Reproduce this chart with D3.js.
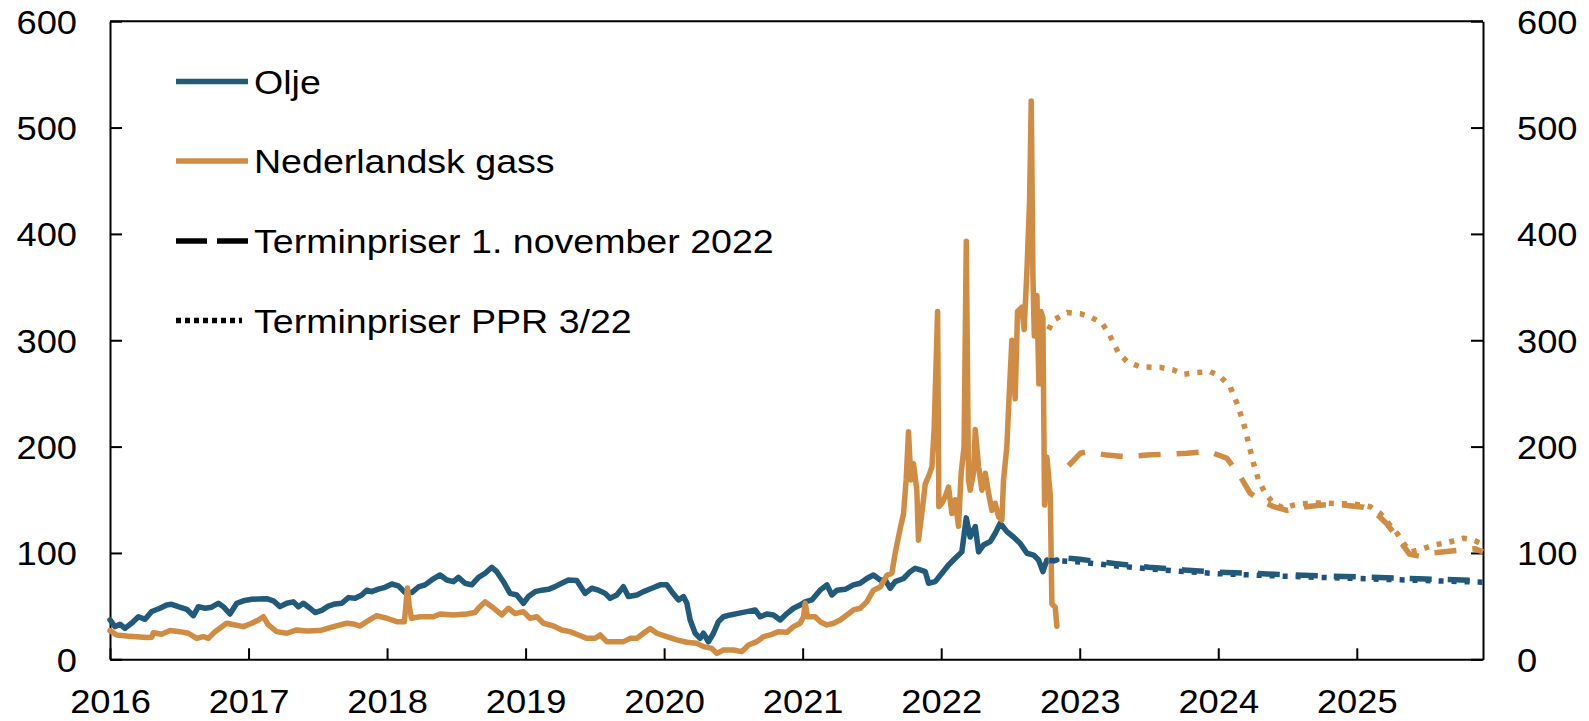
<!DOCTYPE html>
<html><head><meta charset="utf-8">
<script src="https://cdn.jsdelivr.net/npm/d3@7/dist/d3.min.js"></script>
<style>
body{margin:0;background:#fff}
text{font-family:"Liberation Sans",Arial,sans-serif;font-size:33px;fill:#000}
text.legend{font-size:34px}
</style>
</head><body>
<svg id="chart" width="1589" height="721"></svg>
<script>
// ---------- data (x = decimal year, y = value) ----------
const yearTicks = [2016,2017,2018,2019,2020,2021,2022,2023,2024,2025];
const valueTicks = [0,100,200,300,400,500,600];
const legendLabels = ["Olje","Nederlandsk gass","Terminpriser 1. november 2022","Terminpriser PPR 3/22"];

const oilHistory = [
[2016.000,37],[2016.036,30.7],[2016.072,33],[2016.108,29],[2016.156,34],[2016.205,40],[2016.253,37.6],[2016.301,45],[2016.361,48],[2016.409,51],[2016.445,51.7],[2016.493,49.5],[2016.554,47],[2016.602,41],[2016.638,49.5],[2016.686,48],[2016.734,49],[2016.782,52.7],[2016.818,49.5],[2016.866,42.6],[2016.915,52.7],[2016.963,55],
[2017.023,56.4],[2017.071,56.7],[2017.131,57],[2017.179,55],[2017.227,49.5],[2017.276,52.7],[2017.324,54],[2017.360,49.5],[2017.396,52.7],[2017.444,48],[2017.480,44],[2017.528,46],[2017.576,50],[2017.625,52],[2017.673,52.7],[2017.721,58],[2017.769,57.4],[2017.817,60.5],[2017.853,65],[2017.889,63.6],[2017.937,66],[2017.986,67.7],
[2018.034,70.8],[2018.082,69],[2018.130,62.7],[2018.178,62.7],[2018.226,68],[2018.274,70],[2018.322,74.6],[2018.383,79.3],[2018.431,74.6],[2018.479,73],[2018.515,77],[2018.563,71.5],[2018.611,70],[2018.660,77],[2018.708,80.9],[2018.756,86.5],[2018.792,82.4],[2018.840,73],[2018.888,62],[2018.936,60.5],[2018.984,52.7],
[2019.020,59],[2019.069,63.6],[2019.117,65],[2019.165,65.8],[2019.213,68.3],[2019.261,71.5],[2019.309,74.6],[2019.369,74],[2019.430,62],[2019.478,66.8],[2019.526,65],[2019.574,62],[2019.610,57.4],[2019.658,60.5],[2019.706,68.3],[2019.742,59],[2019.803,60.5],[2019.851,63.6],[2019.911,66.8],[2019.971,70],
[2020.019,70],[2020.055,63.6],[2020.104,55.8],[2020.140,59],[2020.164,52.7],[2020.188,37],[2020.224,24.5],[2020.260,19.7],[2020.284,24.5],[2020.320,16.5],[2020.356,24.5],[2020.392,35.4],[2020.428,40],[2020.477,41.7],[2020.525,43],[2020.597,44.8],[2020.657,46.4],[2020.693,40],[2020.741,42.6],[2020.789,41.7],[2020.838,37],[2020.886,43],[2020.934,48],[2020.982,51],
[2021.018,54],[2021.066,55.8],[2021.126,65],[2021.175,70],[2021.211,60.5],[2021.247,65],[2021.307,65.8],[2021.367,70],[2021.415,71.5],[2021.463,76],[2021.511,79.3],[2021.560,74.6],[2021.596,74.6],[2021.632,66.8],[2021.668,73],[2021.728,76],[2021.776,82.4],[2021.812,85.6],[2021.848,84],[2021.885,82.4],[2021.909,71.5],[2021.957,73],
[2022.005,80.9],[2022.053,88.7],[2022.101,95],[2022.149,101],[2022.181,133],[2022.209,115],[2022.246,124.8],[2022.270,101],[2022.306,107.5],[2022.354,110.7],[2022.390,118.5],[2022.426,128],[2022.474,120],[2022.522,115],[2022.570,109],[2022.619,99.7],[2022.667,98],[2022.703,93.4],[2022.734,82.4],[2022.763,93.4],[2022.799,91.8],[2022.835,93.4]
];

const gasHistory = [
[2016.000,27],[2016.048,22.9],[2016.120,22],[2016.193,21.3],[2016.265,20.4],[2016.301,20.7],[2016.313,25],[2016.373,23.5],[2016.433,27],[2016.505,26],[2016.566,24.5],[2016.626,19.7],[2016.674,21.3],[2016.710,19.7],[2016.758,26],[2016.842,33.9],[2016.903,32.3],[2016.963,30.7],
[2017.023,33.9],[2017.071,37],[2017.107,40],[2017.143,32.3],[2017.203,26],[2017.276,24.5],[2017.348,27.6],[2017.420,26.6],[2017.516,27],[2017.613,30.7],[2017.709,33.9],[2017.757,33.2],[2017.805,31.3],[2017.853,35.4],[2017.925,41],[2017.998,38.6],
[2018.070,35.4],[2018.125,35.4],[2018.147,67],[2018.160,50],[2018.176,38.6],[2018.238,40],[2018.334,40],[2018.383,42.6],[2018.479,41.7],[2018.575,42.6],[2018.635,44],[2018.659,48],[2018.708,54],[2018.756,49.5],[2018.828,41.7],[2018.876,48],[2018.924,43],[2018.984,44.8],
[2019.032,38.6],[2019.081,40],[2019.129,33.9],[2019.201,31.3],[2019.261,27.6],[2019.321,26],[2019.382,22.9],[2019.442,19.7],[2019.502,19.7],[2019.538,22.9],[2019.586,16.6],[2019.659,16.6],[2019.707,16.6],[2019.755,19.7],[2019.803,19.7],[2019.851,24.5],[2019.899,29],[2019.947,24.5],
[2020.019,21.3],[2020.092,18.2],[2020.164,16],[2020.236,15],[2020.284,11.9],[2020.344,10.3],[2020.380,5.6],[2020.428,8.8],[2020.501,8.8],[2020.561,7.2],[2020.609,13.5],[2020.669,16.6],[2020.717,21.3],[2020.765,22.9],[2020.826,26],[2020.886,25.4],[2020.934,30.7],[2020.982,33.9],
[2021.006,40],[2021.018,52.7],[2021.035,40],[2021.090,40],[2021.126,35.4],[2021.175,32.3],[2021.223,33.9],[2021.271,37],[2021.319,41.7],[2021.367,46.4],[2021.415,48],[2021.463,54],[2021.511,65],[2021.560,68],[2021.608,79],[2021.644,81],[2021.668,100],[2021.704,123],[2021.728,137],[2021.747,168.7],[2021.764,214],[2021.781,168.7],[2021.800,184],[2021.824,159],[2021.836,112],[2021.860,137],[2021.885,165],[2021.909,172],[2021.933,181],[2021.949,216],[2021.974,327],[2021.983,143.6],
[2022.005,146.7],[2022.029,153],[2022.053,162],[2022.077,137],[2022.101,150],[2022.125,125],[2022.144,175],[2022.165,200],[2022.181,393],[2022.197,168.7],[2022.209,159],[2022.233,175],[2022.246,216],[2022.270,181],[2022.294,159],[2022.318,175],[2022.342,156],[2022.366,140],[2022.390,146.7],[2022.414,134],[2022.438,131],[2022.450,168.7],[2022.474,200],[2022.486,235],[2022.510,300],[2022.534,245],[2022.551,327],[2022.582,331],[2022.599,310],[2022.619,366],[2022.638,431],[2022.650,525],[2022.662,362],[2022.672,304],[2022.691,342],[2022.705,259],[2022.720,327],[2022.734,321],[2022.746,145],[2022.763,190],[2022.787,155],[2022.799,52],[2022.823,49],[2022.835,31]
];

// forward prices, PPR 3/22 (dotted)
const gasForwardPPR = [
[2022.775,310],[2022.811,319],[2022.908,326],[2023.004,325],[2023.076,322],[2023.161,316],[2023.209,306.6],[2023.245,297],[2023.281,288],[2023.341,280],[2023.437,275],[2023.581,274.5],[2023.677,272],[2023.750,268],[2023.846,269.6],[2023.942,270.5],
[2024.014,266],[2024.087,256],[2024.135,240.6],[2024.183,222],[2024.219,203],[2024.255,184],[2024.291,168.6],[2024.339,156],[2024.399,146.6],[2024.472,142],[2024.544,145],[2024.592,146],[2024.712,147],[2024.833,146.6],[2024.977,146],
[2025.098,143.5],[2025.170,137],[2025.218,129.4],[2025.290,118.5],[2025.338,109],[2025.386,101],[2025.459,103],[2025.555,107.5],[2025.651,109.7],[2025.771,113.8],[2025.844,112],[2025.911,108]
];
const oilForwardPPR = [
[2022.780,93],[2023.000,91.5],[2023.250,88],[2023.500,85],[2023.750,82.5],[2024.000,80.5],[2024.500,78],[2025.000,76],[2025.500,74],[2025.911,72.5]
];
// forward prices, 1 November 2022 (dashed)
const gasForwardNov = [
[2022.919,182],[2023.004,193.7],[2023.052,195],[2023.196,192],[2023.316,190.6],[2023.485,192],[2023.629,193],[2023.774,193.7],[2023.894,195],[2023.942,195],
[2024.063,189],[2024.159,172],[2024.231,156],[2024.328,148],[2024.400,143.5],[2024.496,140],[2024.600,143],[2024.750,145],[2024.900,145],
[2025.050,143],[2025.150,136],[2025.220,127],[2025.300,113],[2025.380,99],[2025.450,97],[2025.550,100],[2025.700,102],[2025.850,104],[2025.911,101]
];
const oilForwardNov = [
[2022.919,95],[2023.000,94],[2023.250,90],[2023.500,86.5],[2023.750,84],[2024.000,82],[2024.500,79.5],[2025.000,77.5],[2025.500,75.5],[2025.911,74]
];

// ---------- drawing ----------
const OIL = "#215a7b", GAS = "#cf8c42", OIL_DOT = "#1f4f86";
const L = 110, R = 1483, T = 21.2, B = 659.3;
const svg = d3.select("#chart");
const x = d3.scaleLinear().domain([2016, 2025.911]).range([L, R]);
const y = d3.scaleLinear().domain([0, 600]).range([B, T]);
const SX = 1.1;

function styleAxis(g){
  g.selectAll("path.domain").attr("stroke","#000").attr("stroke-width",2);
  g.selectAll(".tick line").attr("stroke","#000").attr("stroke-width",2);
  g.selectAll("text").attr("fill","#000");
  g.attr("font-size",null).attr("font-family",null);
}

const gx = svg.append("g").attr("transform",`translate(0,${B})`)
  .call(d3.axisBottom(x).tickValues(yearTicks).tickFormat(d3.format("d")).tickSize(-11).tickSizeOuter(0).tickPadding(30.3));
styleAxis(gx);
gx.selectAll("text").attr("transform",`scale(${SX},1)`);

const gl = svg.append("g").attr("transform",`translate(${L},0)`)
  .call(d3.axisLeft(y).tickValues(valueTicks).tickSize(-12).tickSizeOuter(0));
styleAxis(gl);
gl.selectAll("text").attr("x",-33/SX).attr("dy","0.36em").attr("transform",`scale(${SX},1)`);

const gr = svg.append("g").attr("transform",`translate(${R},0)`)
  .call(d3.axisRight(y).tickValues(valueTicks).tickSize(-12).tickSizeOuter(0));
styleAxis(gr);
gr.selectAll("text").attr("x",34/SX).attr("dy","0.36em").attr("transform",`scale(${SX},1)`);

// top frame line
svg.append("line").attr("x1",L).attr("x2",R).attr("y1",T).attr("y2",T)
  .attr("stroke","#000").attr("stroke-width",2);

const line = d3.line().x(d=>x(d[0])).y(d=>y(d[1]));
function draw(data,color,dash){
  const p = svg.append("path").datum(data).attr("d",line)
    .attr("fill","none").attr("stroke",color).attr("stroke-width",5.5);
  if(dash){ p.attr("stroke-dasharray",dash).attr("stroke-linecap","butt").attr("stroke-linejoin","round"); }
  else { p.attr("stroke-linecap","round").attr("stroke-linejoin","round"); }
}
draw(oilHistory, OIL);
draw(gasHistory, GAS);
draw(gasForwardPPR, GAS, "5,8");
draw(gasForwardNov, GAS, "22,16");
draw(oilForwardPPR, OIL_DOT, "5,8");
draw(oilForwardNov, OIL, "22,16");

// legend
const legendY = [81.5, 161, 241, 320.5];
const legendStyle = [
  {color:OIL, dash:null, x2:248},
  {color:GAS, dash:null, x2:248},
  {color:"#000", dash:"31,10", x2:248},
  {color:"#000", dash:"5,4", x2:242}
];
legendLabels.forEach((lab,i)=>{
  const s = legendStyle[i];
  svg.append("line").attr("x1",176).attr("x2",s.x2).attr("y1",legendY[i]).attr("y2",legendY[i])
    .attr("stroke",s.color).attr("stroke-width",5.5)
    .attr("stroke-dasharray",s.dash);
  svg.append("text").attr("class","legend")
    .attr("transform",`translate(254,${legendY[i]+12.2}) scale(1.105,1)`).text(lab);
});
</script>
</body></html>
